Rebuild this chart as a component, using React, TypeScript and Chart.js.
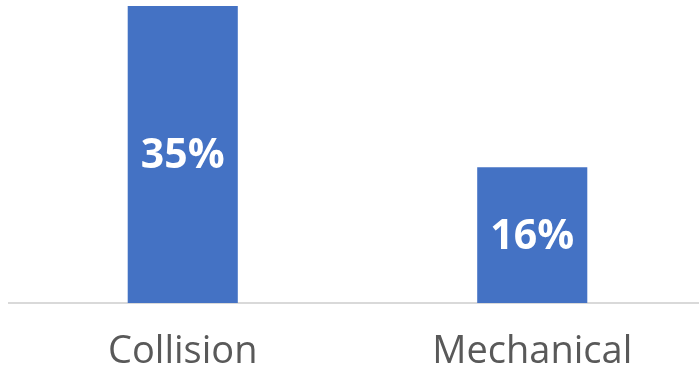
import React, { useEffect, useRef } from "react";
import { Chart, registerables } from "chart.js";

Chart.register(...registerables);

const categories = ["Collision", "Mechanical"];
const values = [35, 16];
const valueLabels = ["35%", "16%"];

const barLabelPlugin = {
  id: "barLabels",
  afterDatasetsDraw(chart: any) {
    const ctx = chart.ctx;
    const meta = chart.getDatasetMeta(0);
    ctx.save();
    ctx.fillStyle = "#ffffff";
    ctx.font = "bold 41px 'Open Sans', sans-serif";
    ctx.textAlign = "center";
    ctx.textBaseline = "middle";
    meta.data.forEach((bar: any, i: number) => {
      const y = (bar.y + bar.base) / 2 + 2;
      ctx.fillText(valueLabels[i], bar.x, y);
    });
    ctx.restore();
  },
};

export default function App() {
  const ref = useRef<HTMLCanvasElement | null>(null);
  useEffect(() => {
    if (!ref.current) return;
    const chart = new Chart(ref.current, {
      type: "bar",
      data: {
        labels: categories,
        datasets: [
          {
            data: values,
            backgroundColor: "#4472C4",
            barPercentage: 0.63,
            categoryPercentage: 0.5,
          },
        ],
      },
      options: {
        animation: false,
        responsive: false,
        maintainAspectRatio: false,
        layout: { padding: { top: 6, left: 0, right: 0, bottom: 0 } },
        plugins: { legend: { display: false }, tooltip: { enabled: false } },
        scales: {
          x: {
            grid: { display: false },
            border: { display: true, color: "#d9d9d9", width: 2 },
            ticks: {
              color: "#595959",
              font: { family: "'Open Sans', sans-serif", size: 38 },
              padding: 18,
              maxRotation: 0,
            },
            afterFit(scale: any) {
              scale.height = 66;
            },
          },
          y: {
            display: false,
            min: 0,
            max: 35,
          },
        },
      },
      plugins: [barLabelPlugin],
    });
    return () => chart.destroy();
  }, []);
  return (
    <div style={{ position: "absolute", left: 8, top: 0, width: 699, height: 369 }}>
      <canvas ref={ref} width={699} height={369} style={{ width: 699, height: 369 }} />
    </div>
  );
}
